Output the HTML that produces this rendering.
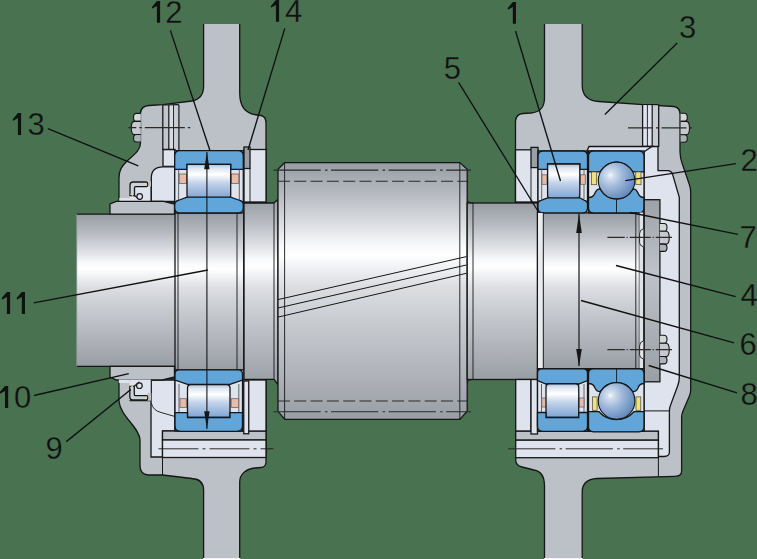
<!DOCTYPE html>
<html><head><meta charset="utf-8"><style>
html,body{margin:0;padding:0;background:#497350;}
svg{display:block;}
text{font-family:"Liberation Sans",sans-serif;}
</style></head><body>
<svg width="757" height="559" viewBox="0 0 757 559">
<rect x="0" y="0" width="757" height="559" fill="#497350"/>

<defs>
<linearGradient id="sg" x1="0" y1="0" x2="0" y2="1">
 <stop offset="0" stop-color="#989ca3"/>
 <stop offset="0.12" stop-color="#b6bac0"/>
 <stop offset="0.26" stop-color="#e2e4e8"/>
 <stop offset="0.32" stop-color="#f8f9fa"/>
 <stop offset="0.36" stop-color="#ffffff"/>
 <stop offset="0.40" stop-color="#f3f4f6"/>
 <stop offset="0.48" stop-color="#dcdee2"/>
 <stop offset="0.65" stop-color="#c4c7cc"/>
 <stop offset="0.87" stop-color="#aaaeb4"/>
 <stop offset="1" stop-color="#999da4"/>
</linearGradient>
<linearGradient id="rg" x1="0" y1="0" x2="0" y2="1">
 <stop offset="0" stop-color="#a9c0e0"/>
 <stop offset="0.12" stop-color="#dfe7f2"/>
 <stop offset="0.3" stop-color="#ffffff"/>
 <stop offset="0.55" stop-color="#c3d3ea"/>
 <stop offset="1" stop-color="#7ea4d4"/>
</linearGradient>
<linearGradient id="pg" x1="0" y1="0" x2="0" y2="1">
 <stop offset="0" stop-color="#9da1a8"/>
 <stop offset="0.4" stop-color="#bfc3c9"/>
 <stop offset="1" stop-color="#9a9ea5"/>
</linearGradient>
<radialGradient id="bg1" cx="0.33" cy="0.35" r="0.72">
 <stop offset="0" stop-color="#f6f9fc"/>
 <stop offset="0.12" stop-color="#d3dfee"/>
 <stop offset="0.45" stop-color="#a0b9da"/>
 <stop offset="0.8" stop-color="#7599c6"/>
 <stop offset="1" stop-color="#6086b9"/>
</radialGradient>
</defs>
<path d="M203.6,24 H239.7 V93 C239.7,108 247,114 257,115 L261,115.5 Q266,116.5 266,123 V202 H244 V380 H266 V462 Q266,467 261,467.5 L255,468 C246,469 239.7,474 239.7,482 V560 H203.6 V490 C203.6,482 199,479 192,478.5 L162.5,475 L148,475 Q140,474 140,466 V440 C140,428 120,416 119,401 V379 H175 V202 H119 V178 C119,170 122,166 127,161 C135,154 140.5,150 140.5,143 V113 Q141,106 149,105.5 L163,104.7 L192,101 C200,99.5 203.6,95 203.6,86 Z" fill="#bcc1c8" stroke="none" />
<path d="M239.7,24 V93 C239.7,108 247,114 257,115 L261,115.5 Q266,116.5 266,123 V202 H244 V380 H266 V462 Q266,467 261,467.5 L255,468 C246,469 239.7,474 239.7,482 V560 H203.6 V490 C203.6,482 199,479 192,478.5 L162.5,475 L148,475 Q140,474 140,466 V440 C140,428 120,416 119,401 V379 H175 V202 H119 V178 C119,170 122,166 127,161 C135,154 140.5,150 140.5,143 V113 Q141,106 149,105.5 L163,104.7 L192,101 C200,99.5 203.6,95 203.6,86 V24" fill="none" stroke="#161616" stroke-width="1.3" />
<path d="M544.5,24 H582.2 V85 C582.2,96 589,101 599,101.5 L643,104.7 L674,106.5 Q680,107.5 680,114 V152 Q680.2,158 682,163 L689.2,184 Q690.7,188 690.7,192 V388.7 Q690.9,392 689.4,396 L682.8,411.5 Q681.6,414.5 681.6,417.3 V471 Q681.6,476.3 675,476.3 L597,478.5 C588,479 582.2,483 582.2,492 V560 H544.5 V486 C544.5,476 540,471 534,470 L522,467 Q515.7,465.5 515.7,460 V380 H537 V202 H515.5 V121 Q516,114 523,113.5 L531,113 C540,112 544.5,108 544.5,98 Z" fill="#bcc1c8" stroke="none" />
<path d="M582.2,24 V85 C582.2,96 589,101 599,101.5 L643,104.7 L674,106.5 Q680,107.5 680,114 V152 Q680.2,158 682,163 L689.2,184 Q690.7,188 690.7,192 V388.7 Q690.9,392 689.4,396 L682.8,411.5 Q681.6,414.5 681.6,417.3 V471 Q681.6,476.3 675,476.3 L597,478.5 C588,479 582.2,483 582.2,492 V560 H544.5 V486 C544.5,476 540,471 534,470 L522,467 Q515.7,465.5 515.7,460 V380 H537 V202 H515.5 V121 Q516,114 523,113.5 L531,113 C540,112 544.5,108 544.5,98 V24" fill="none" stroke="#161616" stroke-width="1.3" />
<rect x="203" y="558" width="37.5" height="1" fill="#f2f3f5" stroke="none" />
<rect x="544" y="558" width="38.8" height="1" fill="#f2f3f5" stroke="none" />
<rect x="76.7" y="214.2" width="98.3" height="152.1" fill="url(#sg)" stroke="none" />
<line x1="76.7" y1="214.2" x2="175" y2="214.2" stroke="#161616" stroke-width="1.3" />
<line x1="76.7" y1="366.3" x2="175" y2="366.3" stroke="#161616" stroke-width="1.3" />
<line x1="76.7" y1="214.2" x2="76.7" y2="366.3" stroke="#8a8e95" stroke-width="0.8" />
<rect x="175" y="213" width="69" height="156.8" fill="url(#sg)" stroke="#161616" stroke-width="1.3" />
<path d="M244,203 H273.8 L278,199.5 V384.5 L274,379.4 H244 Z" fill="url(#sg)" stroke="#161616" stroke-width="1.3" />
<path d="M278,169.3 L284.6,162.6 H459.8 L467.2,169.3 V411.3 L459.8,419.4 H284.8 L278,411.3 Z" fill="url(#sg)" stroke="#161616" stroke-width="1.3" />
<rect x="467.2" y="203" width="70.3" height="176.5" fill="url(#sg)" stroke="#161616" stroke-width="1.3" />
<rect x="537.5" y="212.9" width="105.3" height="155.8" fill="url(#sg)" stroke="#161616" stroke-width="1.3" />
<path d="M140.8,113.4 H136.50 Q133.50,113.4 133.50,117.40 Q133.50,121.408 136.50,121.408 H140.8" fill="#d3d6db" stroke="#161616" stroke-width="1.1" />
<path d="M140.8,121.408 H134.30 Q131.30,121.408 131.30,127.99 Q131.30,134.564 134.30,134.564 H140.8" fill="#c6c9ce" stroke="#161616" stroke-width="1.1" />
<path d="M140.8,134.564 H136.50 Q133.50,134.564 133.50,138.28 Q133.50,142 136.50,142 H140.8" fill="#aeb2b8" stroke="#161616" stroke-width="1.1" />
<rect x="162.8" y="104.9" width="6.0" height="45.4" fill="#c3c7cd" stroke="none" />
<rect x="168.8" y="104.9" width="4.7" height="45.4" fill="#d8dbe2" stroke="none" />
<rect x="173.5" y="104.9" width="5.4" height="45.4" fill="#c9cdd3" stroke="none" />
<line x1="162.8" y1="104.9" x2="162.8" y2="150.3" stroke="#161616" stroke-width="1.3" />
<line x1="168.8" y1="104.9" x2="168.8" y2="150.3" stroke="#161616" stroke-width="1.2" />
<line x1="173.5" y1="104.9" x2="173.5" y2="150.3" stroke="#161616" stroke-width="0.9" />
<line x1="178.9" y1="104.9" x2="178.9" y2="150.3" stroke="#161616" stroke-width="1.2" />
<line x1="162.8" y1="105" x2="178.9" y2="104.6" stroke="#161616" stroke-width="1.2" />
<line x1="128.3" y1="127.7" x2="193.1" y2="127.7" stroke="#2a2a2a" stroke-width="1.2" stroke-dasharray="8,3,2.5,3,40,3,2.5,3"/>
<path d="M163,149.5 H175 V166.5 H163 Z" fill="#dfe3ee" stroke="#161616" stroke-width="1.3" />
<path d="M151.3,201.3 V178 Q151.3,166.8 163,166.8 H175 V201.3 Z" fill="#dfe3ee" stroke="#161616" stroke-width="1.3" />
<rect x="119.3" y="198" width="10.2" height="3.3" fill="#dfe3ee" stroke="none" />
<rect x="129.5" y="181.5" width="21.5" height="19.8" fill="#dfe3ee" stroke="none" />
<line x1="151" y1="181.5" x2="151" y2="201.3" stroke="#161616" stroke-width="1.1" />
<rect x="147.2" y="181.5" width="3.8" height="5.0" fill="#bcc1c8" stroke="none" />
<path d="M130,195.6 V185 Q130,182 133,182 H146.5 Q147.6,182 147.6,184 Q147.6,186.6 146.5,186.6 H135.5 Q134.5,186.6 134.5,188 V195.6 Z" fill="#cdd1d8" stroke="#161616" stroke-width="1.3" />
<path d="M133.8,195 L140,199.7" fill="none" stroke="#1c1c1c" stroke-width="1.4" />
<circle cx="139.7" cy="196.5" r="2.8" fill="#dfe3ee" stroke="#1c1c1c" stroke-width="1.2"/>
<path d="M145,183.2 L147,185" fill="none" stroke="#f0e278" stroke-width="1.2" />
<path d="M130.5,194 L133,195.5" fill="none" stroke="#f0e278" stroke-width="1.2" />
<path d="M110,214.2 V204 L116.4,201.3 H163.6 L174.5,204 V214.2 Z" fill="#bcc1c8" stroke="#161616" stroke-width="1.3" />
<rect x="244" y="149.5" width="22" height="52.5" fill="#dfe3ee" stroke="#161616" stroke-width="1.3" />
<rect x="244" y="147" width="6" height="21.5" fill="#9a9fa6" stroke="#161616" stroke-width="1.3" />
<line x1="250" y1="168.5" x2="250" y2="202" stroke="#161616" stroke-width="0.9" />
<rect x="174.7" y="150.7" width="68.6" height="52.3" fill="#dfe3ee" stroke="#161616" stroke-width="1.3" />
<path d="M174.7,169.3 V156 Q174.7,150.7 180,150.7 H238 Q243.3,150.7 243.3,156 V169.3 H230.7 V164.3 H187 V169.3 Z" fill="#62a5d8" stroke="#161616" stroke-width="1.3" />
<line x1="178.6" y1="169.3" x2="178.6" y2="201" stroke="#555" stroke-width="0.9" />
<line x1="239.3" y1="169.3" x2="239.3" y2="201" stroke="#555" stroke-width="0.9" />
<rect x="179.2" y="174" width="7.3" height="9.5" fill="#e8bca8" stroke="#666" stroke-width="0.8" />
<rect x="231.3" y="174" width="7.5" height="9.5" fill="#e8bca8" stroke="#666" stroke-width="0.8" />
<path d="M187,164.3 H230.7 V195 Q230.7,198.3 227.5,198.3 H190.2 Q187,198.3 187,195 Z" fill="url(#rg)" stroke="#161616" stroke-width="1.3" />
<path d="M174.7,205 Q174.7,201.4 178,200.5 L187,197.2 H230.7 L240,200.5 Q243.3,201.4 243.3,205 V208 Q243.3,213 238,213 H180 Q174.7,213 174.7,208 Z" fill="#62a5d8" stroke="#161616" stroke-width="1.3" />
<path d="M151,380 H175 V431 H162.5 V457 H151 Z" fill="#dfe3ee" stroke="#161616" stroke-width="1.3" />
<path d="M151.3,403 Q153,410.5 161,412.5 L175,416.5" fill="none" stroke="#161616" stroke-width="0.9" />
<path d="M110,366.3 V377 L116.4,380 H162.6 L174.5,377 V366.3 Z" fill="#bcc1c8" stroke="#161616" stroke-width="1.3" />
<rect x="118.8" y="379.5" width="10.7" height="3.5" fill="#dfe3ee" stroke="none" />
<rect x="129.4" y="379.5" width="21.9" height="21.2" fill="#dfe3ee" stroke="none" />
<line x1="151.3" y1="379.5" x2="151.3" y2="400.7" stroke="#161616" stroke-width="1.1" />
<line x1="129.4" y1="400.7" x2="151.3" y2="400.7" stroke="#161616" stroke-width="1.1" />
<rect x="147.5" y="393" width="3.8" height="7.7" fill="#bcc1c8" stroke="none" />
<path d="M129.8,386.3 V397 Q129.8,400 132.8,400 H146.5 Q147.6,400 147.6,398 Q147.6,395.6 146.5,395.6 H135.3 Q134.3,395.6 134.3,394 V386.3 Z" fill="#cdd1d8" stroke="#161616" stroke-width="1.3" />
<path d="M133.6,386.8 L139.5,382" fill="none" stroke="#1c1c1c" stroke-width="1.4" />
<circle cx="139.4" cy="385.7" r="2.8" fill="#dfe3ee" stroke="#1c1c1c" stroke-width="1.2"/>
<path d="M145,399 L147,397" fill="none" stroke="#f0e278" stroke-width="1.2" />
<path d="M130.5,387.5 L133,386" fill="none" stroke="#f0e278" stroke-width="1.2" />
<rect x="162.5" y="431" width="103.5" height="9" fill="#bcc1c8" stroke="#161616" stroke-width="1.3" />
<rect x="162.5" y="440" width="103.5" height="17.5" fill="#dfe3ee" stroke="#161616" stroke-width="1.3" />
<line x1="158.5" y1="448.8" x2="273.5" y2="448.8" stroke="#161616" stroke-width="0.9" stroke-dasharray="40,4,3,4"/>
<line x1="162.5" y1="457.5" x2="162.5" y2="475" stroke="#161616" stroke-width="1.0" />
<rect x="242.5" y="380" width="23.5" height="51" fill="#dfe3ee" stroke="#161616" stroke-width="1.3" />
<rect x="243.75" y="381" width="5.0" height="52.75" fill="#dfe3ee" stroke="#161616" stroke-width="1.3" />
<rect x="175" y="380" width="67.5" height="51" fill="#dfe3ee" stroke="#161616" stroke-width="1.3" />
<path d="M175,374 Q175,369.8 179,369.8 H238.5 Q242.5,369.8 242.5,374 V380 L230,384.4 H187.5 L175,380 Z" fill="#62a5d8" stroke="#161616" stroke-width="1.3" />
<line x1="179" y1="384" x2="179" y2="412" stroke="#555" stroke-width="0.9" />
<line x1="238.8" y1="384" x2="238.8" y2="412" stroke="#555" stroke-width="0.9" />
<rect x="180" y="398.7" width="6.3" height="8.8" fill="#e8bca8" stroke="#666" stroke-width="0.8" />
<rect x="231.2" y="398.7" width="7.5" height="8.8" fill="#e8bca8" stroke="#666" stroke-width="0.8" />
<path d="M187.5,388 Q187.5,384.6 191,384.6 H226.5 Q230,384.6 230,388 V417.5 H187.5 Z" fill="url(#rg)" stroke="#161616" stroke-width="1.3" />
<path d="M175,412.6 H187.5 V417.5 H230 V412.6 H242.5 V426 Q242.5,431.3 237,431.3 H180.5 Q175,431.3 175,426 Z" fill="#62a5d8" stroke="#161616" stroke-width="1.3" />
<line x1="178" y1="212.5" x2="178" y2="370" stroke="#161616" stroke-width="0.9" />
<line x1="237" y1="212.5" x2="237" y2="370" stroke="#161616" stroke-width="0.9" />
<line x1="243.6" y1="212.5" x2="243.6" y2="370" stroke="#161616" stroke-width="0.9" />
<line x1="206.9" y1="152" x2="206.9" y2="429" stroke="#161616" stroke-width="1.1" />
<path d="M206.9,152.1 L204.2,169.3 H209.6 Z" fill="#161616" stroke="none" />
<path d="M206.9,429 L204.2,411.3 H209.6 Z" fill="#161616" stroke="none" />
<line x1="274" y1="203" x2="274" y2="379.4" stroke="#161616" stroke-width="0.9" />
<line x1="284.6" y1="162.6" x2="284.6" y2="419.4" stroke="#161616" stroke-width="0.9" />
<line x1="459.8" y1="162.6" x2="459.8" y2="419.4" stroke="#161616" stroke-width="0.9" />
<line x1="273.4" y1="170.1" x2="471" y2="170.1" stroke="#2a2a2a" stroke-width="1.1" stroke-dasharray="47.3,4.3,2.5,3.5"/>
<line x1="278" y1="181.2" x2="467" y2="181.2" stroke="#2a2a2a" stroke-width="1.1" stroke-dasharray="12,4.3"/>
<line x1="278" y1="401" x2="467" y2="401" stroke="#2a2a2a" stroke-width="1.1" stroke-dasharray="12,4.3"/>
<line x1="273.4" y1="411.8" x2="471" y2="411.8" stroke="#2a2a2a" stroke-width="1.1" stroke-dasharray="47.3,4.3,2.5,3.5"/>
<line x1="278" y1="299.6" x2="466.4" y2="256.6" stroke="#161616" stroke-width="1.0" />
<line x1="278" y1="308" x2="466.4" y2="265" stroke="#161616" stroke-width="1.0" />
<line x1="278" y1="317.1" x2="466.4" y2="273.3" stroke="#161616" stroke-width="1.0" />
<line x1="473" y1="203" x2="473" y2="379.5" stroke="#161616" stroke-width="0.9" />
<path d="M467.2,199.5 Q468,203 473,203" fill="none" stroke="#161616" stroke-width="0.9" />
<path d="M467.2,382.5 Q468,379.5 473,379.5" fill="none" stroke="#161616" stroke-width="0.9" />
<path d="M680.6,113.3 H684.30 Q687.30,113.3 687.30,117.36 Q687.30,121.42 684.30,121.42 H680.6" fill="#d3d6db" stroke="#161616" stroke-width="1.1" />
<path d="M680.6,121.42 H686.50 Q689.50,121.42 689.50,128.09 Q689.50,134.76000000000002 686.50,134.76000000000002 H680.6" fill="#c6c9ce" stroke="#161616" stroke-width="1.1" />
<path d="M680.6,134.76000000000002 H684.30 Q687.30,134.76000000000002 687.30,138.53 Q687.30,142.3 684.30,142.3 H680.6" fill="#aeb2b8" stroke="#161616" stroke-width="1.1" />
<rect x="642.6" y="104.5" width="9.6" height="42.6" fill="#dfe3ee" stroke="none" />
<rect x="652.2" y="104.5" width="6.5" height="42.6" fill="#c9cdd3" stroke="none" />
<line x1="642.6" y1="104.5" x2="642.6" y2="147.1" stroke="#161616" stroke-width="1.3" />
<line x1="647.4" y1="104.5" x2="647.4" y2="147.1" stroke="#161616" stroke-width="0.9" />
<line x1="652.2" y1="104.5" x2="652.2" y2="147.1" stroke="#161616" stroke-width="1.2" />
<line x1="658.7" y1="104.5" x2="658.7" y2="147.1" stroke="#161616" stroke-width="1.3" />
<line x1="642.6" y1="104.5" x2="658.7" y2="104.7" stroke="#161616" stroke-width="1.2" />
<line x1="628" y1="127.8" x2="693" y2="127.8" stroke="#2a2a2a" stroke-width="1.2" stroke-dasharray="25,3,2.5,3,25,3,2.5,3,8,3,2.5,3"/>
<path d="M644,146.5 H658 V170.7 H668 Q671,170.7 672.5,174 L679.3,197.4 V377 Q679.4,381 677.8,385.5 L670.6,405 Q669.4,408 669.4,411 V452 Q669.4,456.5 664,456.5 H658.4 V431.3 H644 Z" fill="#dfe3ee" stroke="#161616" stroke-width="1.3" />
<rect x="515.5" y="149.8" width="22.5" height="52.2" fill="#dfe3ee" stroke="#161616" stroke-width="1.3" />
<rect x="531" y="147.4" width="7" height="20.2" fill="#9a9fa6" stroke="#161616" stroke-width="1.3" />
<line x1="531" y1="167.6" x2="531" y2="202" stroke="#161616" stroke-width="0.9" />
<path d="M587,151 L589,146.5 H644 L652,146.5 L642,153 Z" fill="#dfe3ee" stroke="#161616" stroke-width="1.3" />
<rect x="538" y="151" width="49.5" height="52" fill="#dfe3ee" stroke="#161616" stroke-width="1.3" />
<path d="M538,169.3 V156 Q538,151 543,151 H582.5 Q587.5,151 587.5,156 V169.3 H579.8 V164 H547.6 V169.3 Z" fill="#62a5d8" stroke="#161616" stroke-width="1.3" />
<line x1="541.7" y1="169.3" x2="541.7" y2="199" stroke="#555" stroke-width="0.9" />
<line x1="584" y1="169.3" x2="584" y2="199" stroke="#555" stroke-width="0.9" />
<rect x="542" y="174.8" width="5" height="9.5" fill="#e8bca8" stroke="#666" stroke-width="0.8" />
<rect x="580.3" y="174.8" width="5.0" height="9.5" fill="#e8bca8" stroke="#666" stroke-width="0.8" />
<path d="M547.6,164 H579.8 V195.6 Q579.8,198.6 576.8,198.6 H550.6 Q547.6,198.6 547.6,195.6 Z" fill="url(#rg)" stroke="#161616" stroke-width="1.3" />
<path d="M538,204 Q538,201 541,200.3 L547.6,197.8 H579.8 L584.5,200.3 Q587.5,201 587.5,204 V208 Q587.5,212.9 582.5,212.9 H543 Q538,212.9 538,208 Z" fill="#62a5d8" stroke="#161616" stroke-width="1.3" />
<rect x="588.5" y="151" width="55.5" height="61.9" fill="#dfe3ee" stroke="#161616" stroke-width="1.3" />
<path d="M588.5,171.9 V156 Q588.5,151 593.5,151 H639 Q644,151 644,156 V171.9 H633 Q626,162 616.5,162 Q607,162 600,171.9 Z" fill="#62a5d8" stroke="#161616" stroke-width="1.3" />
<rect x="591.6" y="171.9" width="5.1" height="12.8" fill="#f0e278" stroke="#444" stroke-width="0.7" />
<rect x="635.8" y="171.9" width="5.2" height="12.8" fill="#f0e278" stroke="#444" stroke-width="0.7" />
<path d="M588.5,208 V197.5 Q593.5,197.5 595,193 Q596.5,189 600,188.8 Q606,198.8 616.5,198.8 Q627,198.8 633,188.8 Q636.5,189 638,193 Q639.5,197.5 644,197.5 V208 Q644,212.9 639,212.9 H593.5 Q588.5,212.9 588.5,208 Z" fill="#62a5d8" stroke="#161616" stroke-width="1.3" />
<line x1="616.5" y1="199" x2="616.5" y2="212.9" stroke="#161616" stroke-width="0.9" />
<circle cx="616.6" cy="180.6" r="18.3" fill="url(#bg1)" stroke="#161616" stroke-width="1.1"/>
<rect x="644.2" y="199.7" width="15.7" height="182.1" fill="url(#pg)" stroke="#161616" stroke-width="1.3" />
<line x1="639.3" y1="212" x2="639.3" y2="368.7" stroke="#161616" stroke-width="0.9" />
<rect x="639.5" y="212.5" width="4.1" height="155.7" fill="#dfe2e6" stroke="none" />
<line x1="643.6" y1="212" x2="643.6" y2="368.7" stroke="#161616" stroke-width="0.9" />
<path d="M643.3,228.8 Q639.6,229.8 639.6,233.8 V242.8 Q639.6,245.8 643.3,246.8" fill="#e4e6ea" stroke="#161616" stroke-width="0.9" />
<path d="M643.3,340.9 Q639.6,341.9 639.6,345.9 V354.9 Q639.6,357.9 643.3,358.9" fill="#e4e6ea" stroke="#161616" stroke-width="0.9" />
<path d="M659.9,223.5 H664.00 Q667.00,223.5 667.00,227.41 Q667.00,231.312 664.00,231.312 H659.9" fill="#d3d6db" stroke="#161616" stroke-width="1.1" />
<path d="M659.9,231.312 H666.20 Q669.20,231.312 669.20,237.73 Q669.20,244.14600000000002 666.20,244.14600000000002 H659.9" fill="#c6c9ce" stroke="#161616" stroke-width="1.1" />
<path d="M659.9,244.14600000000002 H664.00 Q667.00,244.14600000000002 667.00,247.77 Q667.00,251.4 664.00,251.4 H659.9" fill="#aeb2b8" stroke="#161616" stroke-width="1.1" />
<path d="M659.9,335.3 H664.00 Q667.00,335.3 667.00,339.30 Q667.00,343.308 664.00,343.308 H659.9" fill="#d3d6db" stroke="#161616" stroke-width="1.1" />
<path d="M659.9,343.308 H666.20 Q669.20,343.308 669.20,349.89 Q669.20,356.464 666.20,356.464 H659.9" fill="#c6c9ce" stroke="#161616" stroke-width="1.1" />
<path d="M659.9,356.464 H664.00 Q667.00,356.464 667.00,360.18 Q667.00,363.9 664.00,363.9 H659.9" fill="#aeb2b8" stroke="#161616" stroke-width="1.1" />
<line x1="607.4" y1="237.4" x2="672" y2="237.4" stroke="#2a2a2a" stroke-width="1.2" stroke-dasharray="17.4,1.8,1.2,2,21,1.8,1.2,2,17"/>
<line x1="607.4" y1="349.6" x2="672" y2="349.6" stroke="#2a2a2a" stroke-width="1.2" stroke-dasharray="17.4,1.8,1.2,2,21,1.8,1.2,2,17"/>
<line x1="635.8" y1="212" x2="635.8" y2="368.7" stroke="#161616" stroke-width="0.9" />
<line x1="579" y1="214" x2="579" y2="366" stroke="#161616" stroke-width="1.2" />
<path d="M579,213.6 L576.2,233 H581.8 Z" fill="#161616" stroke="none" />
<path d="M579,366.6 L576.2,349 H581.8 Z" fill="#161616" stroke="none" />
<rect x="538" y="213" width="5.3" height="155.2" fill="#e9ebee" stroke="none" />
<line x1="543.3" y1="212" x2="543.3" y2="368.7" stroke="#161616" stroke-width="1.0" />
<rect x="515.7" y="379.5" width="15.3" height="51.7" fill="#dfe3ee" stroke="#161616" stroke-width="1.3" />
<rect x="515.7" y="431.2" width="142.7" height="9.0" fill="#bcc1c8" stroke="#161616" stroke-width="1.3" />
<rect x="531" y="379.5" width="6.5" height="54.5" fill="#dfe3ee" stroke="#161616" stroke-width="1.3" />
<rect x="515.7" y="440.2" width="142.7" height="17.5" fill="#dfe3ee" stroke="#161616" stroke-width="1.3" />
<line x1="508" y1="448.8" x2="663" y2="448.8" stroke="#2a2a2a" stroke-width="1.0" stroke-dasharray="47.3,4.3,2.5,3.5"/>
<line x1="658.4" y1="431.3" x2="658.4" y2="476" stroke="#161616" stroke-width="1.0" />
<line x1="644" y1="410.9" x2="669.4" y2="410.9" stroke="#161616" stroke-width="1.0" />
<rect x="537.5" y="368.75" width="50.0" height="62.55" fill="#dfe3ee" stroke="#161616" stroke-width="1.3" />
<path d="M537.5,373 Q537.5,368.75 541.5,368.75 H583.5 Q587.5,368.75 587.5,373 V380.5 L578.75,384 H546 L537.5,380.5 Z" fill="#62a5d8" stroke="#161616" stroke-width="1.3" />
<line x1="541.5" y1="384" x2="541.5" y2="412" stroke="#555" stroke-width="0.9" />
<line x1="584" y1="384" x2="584" y2="412" stroke="#555" stroke-width="0.9" />
<rect x="541.8" y="398" width="4.5" height="9" fill="#e8bca8" stroke="#666" stroke-width="0.8" />
<rect x="579" y="398" width="5" height="9" fill="#e8bca8" stroke="#666" stroke-width="0.8" />
<path d="M546,387 Q546,383.75 549,383.75 H575.75 Q578.75,383.75 578.75,387 V417.5 H546 Z" fill="url(#rg)" stroke="#161616" stroke-width="1.3" />
<path d="M537.5,412.5 H546 V417.5 H578.75 V412.5 H587.5 V426.3 Q587.5,431.3 582.5,431.3 H542.5 Q537.5,431.3 537.5,426.3 Z" fill="#62a5d8" stroke="#161616" stroke-width="1.3" />
<rect x="588.5" y="368.75" width="55.5" height="62.55" fill="#dfe3ee" stroke="#161616" stroke-width="1.3" />
<path d="M588.5,373.5 Q588.5,368.75 593.5,368.75 H639 Q644,368.75 644,373.5 V383.5 Q639.5,383.5 638,388 Q636.5,391.6 633,391.8 Q627,382.6 616.5,382.6 Q606,382.6 600,391.8 Q596.5,391.6 595,388 Q593.5,383.5 588.5,383.5 Z" fill="#62a5d8" stroke="#161616" stroke-width="1.3" />
<line x1="616.6" y1="368.75" x2="616.6" y2="382.6" stroke="#161616" stroke-width="0.9" />
<rect x="592.4" y="396.9" width="4.7" height="13.4" fill="#f0e278" stroke="#444" stroke-width="0.7" />
<rect x="636" y="396.9" width="4.8" height="13.4" fill="#f0e278" stroke="#444" stroke-width="0.7" />
<path d="M588.5,411.7 H599 Q606,419.5 616.5,419.5 Q627,419.5 634,411.7 H644 V426.8 Q644,431.8 639,431.8 H593.5 Q588.5,431.8 588.5,426.8 Z" fill="#62a5d8" stroke="#161616" stroke-width="1.3" />
<circle cx="616.6" cy="400.9" r="18.3" fill="url(#bg1)" stroke="#161616" stroke-width="1.1"/>
<line x1="170.4" y1="30.4" x2="210" y2="150.7" stroke="#111" stroke-width="1.35" />
<line x1="284.8" y1="28.4" x2="248" y2="150" stroke="#111" stroke-width="1.35" />
<line x1="47.9" y1="128.6" x2="138.3" y2="165.9" stroke="#111" stroke-width="1.35" />
<line x1="33.7" y1="302.8" x2="208" y2="270" stroke="#111" stroke-width="1.35" />
<line x1="34" y1="395.5" x2="128.8" y2="373.7" stroke="#111" stroke-width="1.35" />
<line x1="66.3" y1="441.6" x2="130.8" y2="389.5" stroke="#111" stroke-width="1.35" />
<line x1="515.5" y1="31" x2="560.5" y2="181" stroke="#111" stroke-width="1.35" />
<line x1="677.2" y1="42.9" x2="604.9" y2="114.6" stroke="#111" stroke-width="1.35" />
<line x1="458.6" y1="82.3" x2="538.5" y2="212" stroke="#111" stroke-width="1.35" />
<line x1="736" y1="163.6" x2="625.3" y2="180.7" stroke="#111" stroke-width="1.35" />
<line x1="738" y1="234.4" x2="630" y2="212.5" stroke="#111" stroke-width="1.35" />
<line x1="735.6" y1="296.6" x2="616" y2="265.5" stroke="#111" stroke-width="1.35" />
<line x1="734.1" y1="342.9" x2="581" y2="300.5" stroke="#111" stroke-width="1.35" />
<line x1="737" y1="392.9" x2="648.7" y2="365.5" stroke="#111" stroke-width="1.35" />
<path d="M160.10,1.00 V22.80 H156.90 V5.95 L151.90,8.85 V6.89 L156.90,1.00 Z" fill="#111"/>
<text x="165.2" y="23.10" font-size="31" fill="#111" stroke="#497350" stroke-width="0.3">2</text>
<path d="M279.10,0.00 V21.80 H275.90 V4.95 L270.90,7.85 V5.89 L275.90,0.00 Z" fill="#111"/>
<text x="285.1" y="22.10" font-size="31" fill="#111" stroke="#497350" stroke-width="0.3">4</text>
<path d="M21.10,112.90 V135.10 H17.90 V117.94 L12.90,120.89 V118.89 L17.90,112.90 Z" fill="#111"/>
<text x="27.6" y="135.40" font-size="31" fill="#111" stroke="#497350" stroke-width="0.3">3</text>
<path d="M10.10,291.90 V313.90 H6.90 V296.89 L1.90,299.82 V297.84 L6.90,291.90 Z" fill="#111"/>
<path d="M25.00,291.90 V313.90 H21.80 V296.89 L16.80,299.82 V297.84 L21.80,291.90 Z" fill="#111"/>
<path d="M8.20,385.90 V408.00 H5.00 V390.92 L0.00,393.86 V391.87 L5.00,385.90 Z" fill="#111"/>
<text x="13.9" y="408.30" font-size="31" fill="#111" stroke="#497350" stroke-width="0.3">0</text>
<path d="M516.00,2.00 V23.80 H512.80 V6.95 L507.80,9.85 V7.89 L512.80,2.00 Z" fill="#111"/>
<text x="45.6" y="458.90" font-size="31" fill="#111" stroke="#497350" stroke-width="0.3">9</text>
<text x="443.7" y="79.00" font-size="31" fill="#111" stroke="#497350" stroke-width="0.3">5</text>
<text x="679" y="37.70" font-size="31" fill="#111" stroke="#497350" stroke-width="0.3">3</text>
<text x="740.4" y="171.40" font-size="31" fill="#111" stroke="#497350" stroke-width="0.3">2</text>
<text x="739.4" y="247.60" font-size="31" fill="#111" stroke="#497350" stroke-width="0.3">7</text>
<text x="740.4" y="306.00" font-size="31" fill="#111" stroke="#497350" stroke-width="0.3">4</text>
<text x="739.6" y="354.60" font-size="31" fill="#111" stroke="#497350" stroke-width="0.3">6</text>
<text x="740.4" y="404.60" font-size="31" fill="#111" stroke="#497350" stroke-width="0.3">8</text>
</svg>
</body></html>
